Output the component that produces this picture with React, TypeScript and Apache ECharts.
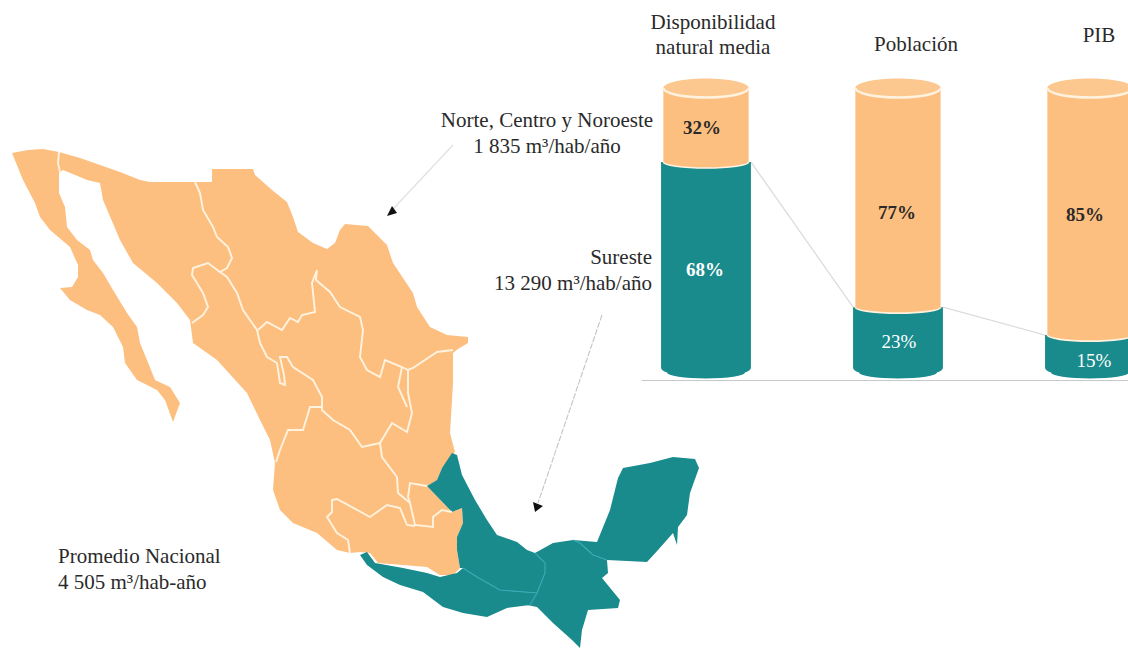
import React, { useEffect, useRef } from "react";
import * as echarts from "echarts";

// Cylinder titles, printed labels
const titles = ["Disponibilidad\nnatural media", "Población", "PIB"];
const surLabels = ["68%", "23%", "15%"];
const norLabels = ["32%", "77%", "85%"];
// Segment heights as actually drawn in the picture (the source cylinders are not strictly to scale)
const surDrawn = [73.8, 22.4, 12.5];
const norTop = [100, 100, 100];

// Map outlines (x, y on the 1128x648 page)
const orangeOutline = [
  [12,153],[28,150],[43,149],[59,152],[80,158],[100,165],[120,172],[140,180],[150,182],[195,182],[212,182],[212,169],[253,169],[255,175],[272,190],[287,202],[293,217],[298,232],[313,243],[327,249],[335,243],[340,230],[345,224],[368,226],[387,245],[393,263],[413,293],[417,307],[430,327],[447,335],[468,337],[468,343],[458,349],[453,353],[453,383],[452,400],[450,433],[455,452],
  [442,468],[437,480],[427,486],[452,512],[462,508],[463,523],[457,537],[457,550],[460,568],[453,575],[440,575],[427,567],[403,565],[378,563],[370,553],[360,552],[350,553],[337,550],[317,533],[293,523],[280,510],[273,490],[275,463],[270,440],[260,420],
  [247,393],[217,360],[193,343],[190,320],[177,303],[157,283],[133,263],[120,240],[103,200],[100,183],[87,180],[80,177],[63,170],[59,173],
  [59,193],[65,207],[67,227],[77,240],[90,250],[93,260],[103,273],[113,290],[127,313],[137,327],[140,343],[147,360],[155,380],[170,387],[180,403],[173,422],[165,400],[157,390],[137,380],[125,363],[123,347],[113,327],[100,315],[87,310],[70,300],[60,288],[72,287],[78,277],[78,265],[70,247],[50,230],[40,217],[35,203],[23,180],
];
const golfo = [[452,453],[457,455],[462,475],[475,500],[487,520],[497,535],[517,542],[527,550],[535,553],[545,563],[545,573],[537,593],[500,590],[477,577],[463,568],[460,568],[457,550],[457,537],[463,523],[462,508],[452,512],[427,486],[437,480],[442,468]];
const pacificoSur = [[360,555],[367,552],[375,563],[403,568],[427,573],[440,577],[457,573],[463,568],[477,577],[500,590],[537,593],[530,605],[507,608],[487,617],[463,613],[443,607],[423,592],[400,585],[383,577],[367,565]];
const fronteraSur = [[535,553],[553,543],[573,540],[580,543],[593,555],[607,560],[608,573],[602,578],[620,600],[618,608],[588,610],[582,630],[580,648],[572,640],[553,623],[537,607],[527,605],[537,593],[545,573],[545,563]];
const yucatan = [[573,540],[597,542],[610,510],[618,478],[623,468],[650,463],[673,457],[695,459],[699,468],[690,493],[687,515],[678,527],[677,545],[673,533],[658,550],[647,562],[607,560],[593,555],[580,543]];

const orangeBorders = [
  [[59,152],[58,163],[60,172]],
  [[195,182],[200,193],[203,210],[213,227],[217,237],[228,247],[232,258],[227,268],[220,272],[227,277],[237,293],[243,310],[257,330],[260,343],[267,357],[277,363],[280,383],[285,385],[284,375],[280,357],[287,357],[293,367],[313,380],[322,397],[322,410],[333,420],[350,430],[362,447],[380,443]],
  [[220,272],[208,263],[193,268],[192,275],[203,293],[208,307],[203,315],[192,323]],
  [[258,330],[267,322],[282,330],[290,318],[298,322],[302,315],[315,312],[312,283],[317,270],[316,280],[330,292],[340,307],[360,317],[363,330],[360,357],[367,370],[380,377],[385,360],[402,367],[408,370],[413,368],[437,352],[453,350]],
  [[408,370],[408,393],[412,413],[407,432],[392,423],[380,443]],
  [[402,367],[398,387],[407,407]],
  [[322,407],[310,407],[303,430],[288,430],[280,450],[276,462]],
  [[380,443],[382,457],[397,477],[398,493],[410,503],[415,525],[433,527],[433,517],[442,510],[452,512]],
  [[427,486],[410,483],[408,497],[410,503]],
  [[350,553],[348,540],[337,533],[327,517],[332,512],[332,500],[337,499],[370,517],[387,505],[400,508],[407,525],[415,526]],
];
const tealBorders = [
  [[535,553],[545,563],[545,573],[537,593],[530,605]],
  [[463,568],[477,577],[500,590],[537,593]],
  [[573,540],[580,543],[593,555],[607,560]],
];

const ORANGE = "#fdbf7f";
const TEAL = "#198b8c";
const CREAM = "#fff3e0";
const INK = "#2a2a2a";
const FONT = "'Liberation Serif', serif";
const PAGE_H = 648;

const toLat = (pts: number[][]) => pts.map(([x, y]) => [x, PAGE_H - y]);
const feature = (name: string, pts: number[][]) => {
  const ring = toLat(pts);
  return {
    type: "Feature",
    properties: { name },
    geometry: { type: "Polygon", coordinates: [[...ring, ring[0]]] },
  };
};

const txt = (text: string, x: number, y: number, align: string, size = 21, fill = INK, weight: any = "normal") => ({
  type: "text",
  x,
  y,
  silent: true,
  style: { text, fill, font: `${weight} ${size}px ${FONT}`, textAlign: align, textVerticalAlign: "middle", lineHeight: 25 },
});

export default function App() {
  const ref = useRef<HTMLDivElement>(null);
  useEffect(() => {
    const chart = echarts.init(ref.current!, null, { renderer: "svg" });
    echarts.registerMap("mx", {
      type: "FeatureCollection",
      features: [
        feature("Norte", orangeOutline),
        feature("Golfo", golfo),
        feature("PacificoSur", pacificoSur),
        feature("FronteraSur", fronteraSur),
        feature("Yucatan", yucatan),
      ],
    } as any);

    const tealSeg = (params: any, api: any) => {
      const i = api.value(0);
      const w = api.size([1, 0])[0] * 0.234;
      const [cx, yTop] = api.coord([i, api.value(1)]);
      const [, yBase] = api.coord([i, 0]);
      const d = `M${cx - w} ${yTop}L${cx + w} ${yTop}L${cx + w} ${yBase - 3}Q${cx + w} ${yBase} ${cx + w - 6} ${yBase + 2}A${w - 6} 6 0 0 1 ${cx - w + 6} ${yBase + 2}Q${cx - w} ${yBase} ${cx - w} ${yBase - 3}Z`;
      const children: any[] = [{ type: "path", shape: { pathData: d }, style: { fill: TEAL } }];
      if (i < surDrawn.length - 1) {
        const [nx, ny] = api.coord([i + 1, surDrawn[i + 1]]);
        children.unshift({
          type: "line",
          shape: { x1: cx + w, y1: yTop, x2: nx - w, y2: ny },
          style: { stroke: "#dcdcdc", lineWidth: 1.3 },
        });
      }
      return { type: "group", children };
    };
    const orangeSeg = (params: any, api: any) => {
      const i = api.value(0);
      const w = api.size([1, 0])[0] * 0.222;
      const [cx, yLow] = api.coord([i, api.value(1)]);
      const [, yTop] = api.coord([i, api.value(2)]);
      const ryB = 6;
      const ryT = 9.5;
      const body = `M${cx - w} ${yTop}L${cx + w} ${yTop}L${cx + w} ${yLow}A${w} ${ryB} 0 0 1 ${cx - w} ${yLow}Z`;
      const lowArc = `M${cx + w} ${yLow}A${w} ${ryB} 0 0 1 ${cx - w} ${yLow}`;
      const topArc = `M${cx + w} ${yTop}A${w} ${ryT} 0 0 1 ${cx - w} ${yTop}`;
      return {
        type: "group",
        children: [
          { type: "path", shape: { pathData: body }, style: { fill: ORANGE } },
          { type: "ellipse", shape: { cx, cy: yTop, rx: w, ry: ryT }, style: { fill: "#fdc88f" } },
          { type: "path", shape: { pathData: topArc }, style: { fill: "none", stroke: CREAM, lineWidth: 2.4 } },
          { type: "path", shape: { pathData: lowArc }, style: { fill: "none", stroke: CREAM, lineWidth: 1.6 } },
        ],
      };
    };

    const mkLines = (list: number[][][], color: string, width: number) => ({
      type: "lines",
      coordinateSystem: "geo",
      polyline: true,
      silent: true,
      lineStyle: { color, width, opacity: 1, curveness: 0 },
      data: list.map((l) => ({ coords: toLat(l) })),
      z: 5,
    });

    chart.setOption({
      animation: false,
      backgroundColor: "#ffffff",
      grid: { left: 642, right: 0, top: 88, height: 292 },
      xAxis: {
        type: "value",
        min: -0.3333,
        max: 2.198,
        axisLine: { show: true, onZero: false, lineStyle: { color: "#c8c8c8", width: 1.2 } },
        axisTick: { show: false },
        axisLabel: { show: false },
        splitLine: { show: false },
      },
      yAxis: { type: "value", min: -3.4, max: 100, show: false, splitLine: { show: false } },
      geo: {
        map: "mx",
        left: 0,
        top: 0,
        width: 1128,
        height: 648,
        aspectScale: 1,
        boundingCoords: [[0, 648], [1128, 0]],
        roam: false,
        silent: true,
        label: { show: false },
        itemStyle: { areaColor: ORANGE, borderWidth: 0 },
        emphasis: { disabled: true },
        regions: [
          { name: "Norte", itemStyle: { areaColor: ORANGE, borderWidth: 0 } },
          ...["Golfo", "PacificoSur", "FronteraSur", "Yucatan"].map((name) => ({
            name,
            itemStyle: { areaColor: TEAL, borderWidth: 0 },
          })),
        ],
      },
      series: [
        mkLines(orangeBorders, CREAM, 1.9),
        mkLines(tealBorders, "#39a9b6", 1.2),
        {
          name: "Sureste",
          type: "custom",
          clip: false,
          silent: true,
          z: 6,
          encode: { x: 0, y: 1 },
          renderItem: tealSeg,
          data: surDrawn.map((v, i) => [i, v]),
        },
        {
          name: "Norte, Centro y Noroeste",
          type: "custom",
          clip: false,
          silent: true,
          z: 7,
          encode: { x: 0, y: [1, 2] },
          renderItem: orangeSeg,
          data: surDrawn.map((v, i) => [i, v, norTop[i]]),
        },
      ],
      graphic: [
        {
          type: "line",
          silent: true,
          shape: { x1: 453, y1: 145, x2: 393, y2: 209 },
          style: { stroke: "#e2e2e2", lineWidth: 1.3 },
        },
        { type: "polygon", silent: true, shape: { points: [[387, 216], [392, 206], [397, 213]] }, style: { fill: "#111" } },
        {
          type: "line",
          silent: true,
          shape: { x1: 602, y1: 315, x2: 538, y2: 503 },
          style: { stroke: "#c4c4c4", lineWidth: 1.1, lineDash: [6, 1.5] },
        },
        { type: "polygon", silent: true, shape: { points: [[533, 502], [543, 506], [535, 512]] }, style: { fill: "#111" } },

        txt(titles[0].split("\n")[0], 713, 22, "center"),
        txt(titles[0].split("\n")[1], 713, 47, "center"),
        txt(titles[1], 916, 44, "center"),
        txt(titles[2], 1099, 35, "center"),
        txt("Norte, Centro y Noroeste", 547, 120, "center"),
        txt("1 835 m³/hab/año", 547, 146, "center"),
        txt("Sureste", 652, 257, "right"),
        txt("13 290 m³/hab/año", 652, 283, "right"),
        txt("Promedio Nacional", 58, 556, "left"),
        txt("4 505 m³/hab-año", 58, 582, "left"),

        { ...txt(norLabels[0], 702, 127, "center", 19, INK, "bold"), z: 20 },
        { ...txt(norLabels[1], 897, 212, "center", 19, INK, "bold"), z: 20 },
        { ...txt(norLabels[2], 1085, 214, "center", 19, INK, "bold"), z: 20 },
        { ...txt(surLabels[0], 705, 269, "center", 19, "#ffffff", "bold"), z: 20 },
        { ...txt(surLabels[1], 899, 341, "center", 19, "#ffffff"), z: 20 },
        { ...txt(surLabels[2], 1094, 360, "center", 19, "#ffffff"), z: 20 },
      ],
    } as any);
    return () => chart.dispose();
  }, []);
  return <div ref={ref} style={{ position: "absolute", left: 0, top: 0, width: 1128, height: 648 }} />;
}
